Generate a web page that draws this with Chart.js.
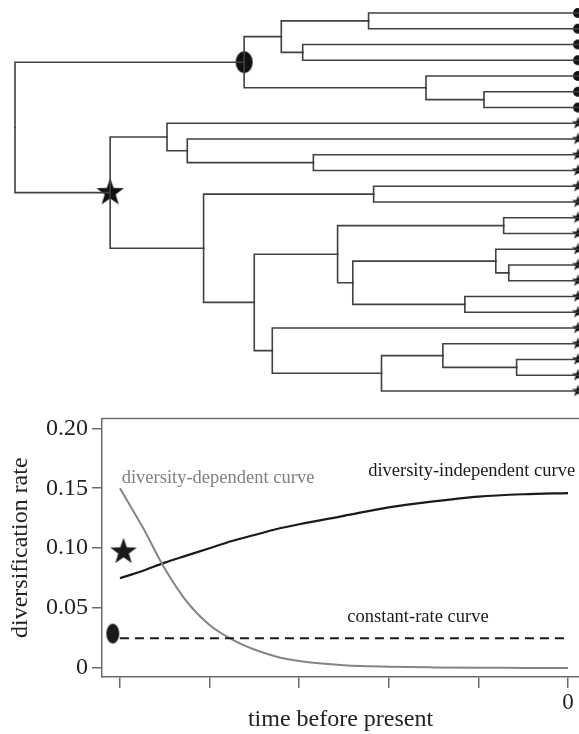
<!DOCTYPE html>
<html>
<head>
<meta charset="utf-8">
<script src="https://cdn.jsdelivr.net/npm/chart.js@4.4.0/dist/chart.umd.min.js"></script>
<style>
  html, body { margin: 0; padding: 0; background: #fff; }
  #wrap { position: relative; width: 579px; height: 734px; }
  canvas { position: absolute; left: 0; }
  #tree { top: 0; }
  #rates { top: 400px; }
</style>
</head>
<body>
<div id="wrap">
  <canvas id="tree" width="579" height="400"></canvas>
  <canvas id="rates" width="579" height="334"></canvas>
</div>
<script>
// ---- tree: internal nodes (depth from root, 0..100) ----
const nodeNames  = ['root', 'C', 'C1', 'C1a', 'C1b', 'C2', 'C2a', 'S', 'S1', 'S1a', 'S1b', 'S2', 'S2a', 'S2b', 'S2c', 'S2c1', 'S2d', 'S2e', 'S2e1', 'S2d2', 'S2f', 'S2g', 'S2h', 'S2i'];
const nodeParent = [null, 'root', 'C', 'C1', 'C1', 'C', 'C2', 'root', 'S', 'S1', 'S1a', 'S', 'S2', 'S2', 'S2b', 'S2c', 'S2c', 'S2d', 'S2e', 'S2d', 'S2b', 'S2f', 'S2g', 'S2h'];
const nodeDepth  = [0, 40.7, 47.3, 62.8, 51.1, 73.0, 83.3, 16.9, 27.0, 30.6, 53.0, 33.5, 63.7, 42.5, 57.3, 86.8, 60.0, 85.4, 87.7, 79.9, 45.7, 65.1, 76.0, 89.1];
// tips, top to bottom
const tipParent  = ['C1a', 'C1a', 'C1b', 'C1b', 'C2', 'C2a', 'C2a', 'S1', 'S1a', 'S1b', 'S1b', 'S2a', 'S2a', 'S2c1', 'S2c1', 'S2e', 'S2e1', 'S2e1', 'S2d2', 'S2d2', 'S2f', 'S2h', 'S2i', 'S2i', 'S2g'];
const tipShape   = ['circle', 'circle', 'circle', 'circle', 'circle', 'circle', 'circle',
                    'star', 'star', 'star', 'star', 'star', 'star', 'star', 'star', 'star',
                    'star', 'star', 'star', 'star', 'star', 'star', 'star', 'star', 'star'];
const tipDepth   = 100;
const ovalNode   = 'C';
const starNode   = 'S';

// ---- rate curves ----
const times                = [-5, -4.75, -4.5, -4.25, -4, -3.75, -3.5, -3.25, -3, -2.5, -2, -1.5, -1, -0.5, 0];
const diversityDependent   = [0.150, 0.118, 0.083, 0.055, 0.036, 0.024, 0.0155, 0.0095, 0.006, 0.0025, 0.0012, 0.0006, 0.0003, 0.0002, 0.0001];
const diversityIndependent = [0.075, 0.081, 0.088, 0.094, 0.100, 0.106, 0.111, 0.116, 0.120, 0.127, 0.134, 0.139, 0.143, 0.145, 0.146];
const constantRate         = [0.025, 0.025, 0.025, 0.025, 0.025, 0.025, 0.025, 0.025, 0.025, 0.025, 0.025, 0.025, 0.025, 0.025, 0.025];
const xTickValues = [-5, -4, -3, -2, -1, 0];
const xTickLabels = ['', '', '', '', '', '0'];
const yTickValues = [0, 0.05, 0.1, 0.15, 0.2];
const yTickLabels = ['0', '0.05', '0.10', '0.15', '0.20'];
const starPoint = [{ x: -4.96, y: 0.097 }];
const ovalPoint = [{ x: -5.08, y: 0.0288 }];

const serif = '"Liberation Serif", "DejaVu Serif", serif';
const axisGrey = '#6b6b6b';

function starImage(r, color) {
  const size = Math.ceil(r * 2) + 2;
  const c = document.createElement('canvas');
  c.width = c.height = size;
  const g = c.getContext('2d');
  g.fillStyle = color;
  g.beginPath();
  for (let k = 0; k < 10; k++) {
    const rr = k % 2 ? r * 0.4 : r;
    const a = -Math.PI / 2 + k * Math.PI / 5;
    g.lineTo(size / 2 + rr * Math.cos(a), size / 2 + rr * Math.sin(a));
  }
  g.closePath();
  g.fill();
  return c;
}

function ovalImage(w, h, color) {
  const c = document.createElement('canvas');
  c.width = w + 2; c.height = h + 2;
  const g = c.getContext('2d');
  g.fillStyle = color;
  g.beginPath();
  g.ellipse(c.width / 2, c.height / 2, w / 2, h / 2, 0, 0, Math.PI * 2);
  g.fill();
  return c;
}

function circleImage(r, color) {
  const c = document.createElement('canvas');
  c.width = c.height = r * 2 + 2;
  const g = c.getContext('2d');
  g.fillStyle = color;
  g.beginPath();
  g.arc(r + 1, r + 1, r, 0, Math.PI * 2);
  g.fill();
  return c;
}

// work out node positions
const depthOf = {};
const children = {};
nodeNames.forEach((n, i) => { depthOf[n] = nodeDepth[i]; children[n] = []; });
nodeNames.forEach((n, i) => { if (nodeParent[i]) children[nodeParent[i]].push({ node: n }); });
tipParent.forEach((p, i) => children[p].push({ tip: i }));
const yOf = {};
function nodeY(n) {
  if (yOf[n] !== undefined) return yOf[n];
  const ys = children[n].map(c => c.tip !== undefined ? c.tip : nodeY(c.node));
  yOf[n] = ys.reduce((a, b) => a + b, 0) / ys.length;
  return yOf[n];
}

const branchStyle = {
  type: 'line',
  borderColor: '#404040',
  borderWidth: 1.6,
  pointRadius: 0,
  tension: 0,
  fill: false,
  borderJoinStyle: 'miter',
  borderCapStyle: 'square'
};

const treeSets = [];
nodeNames.forEach((n, i) => {
  const p = nodeParent[i];
  if (!p) return;
  treeSets.push(Object.assign({
    data: [{ x: depthOf[p], y: nodeY(p) }, { x: depthOf[p], y: nodeY(n) }, { x: depthOf[n], y: nodeY(n) }]
  }, branchStyle));
});
tipParent.forEach((p, i) => {
  treeSets.push(Object.assign({
    data: [{ x: depthOf[p], y: nodeY(p) }, { x: depthOf[p], y: i }, { x: tipDepth, y: i }]
  }, branchStyle));
});

const tipCircle = circleImage(5, '#111');
const tipStar = starImage(6.5, '#111');
treeSets.push({
  type: 'scatter',
  data: tipShape.map((s, i) => ({ x: tipDepth, y: i })),
  pointStyle: tipShape.map(s => s === 'circle' ? tipCircle : tipStar),
  pointRadius: 5
});
treeSets.push({
  type: 'scatter',
  data: [{ x: depthOf[ovalNode], y: nodeY(ovalNode) }],
  pointStyle: ovalImage(17, 22, '#111'),
  pointRadius: 5
});
treeSets.push({
  type: 'scatter',
  data: [{ x: depthOf[starNode], y: nodeY(starNode) }],
  pointStyle: starImage(14.5, '#111'),
  pointRadius: 5
});

new Chart(document.getElementById('tree'), {
  type: 'line',
  data: { datasets: treeSets },
  options: {
    responsive: false,
    animation: false,
    events: [],
    layout: { padding: 0, autoPadding: false },
    plugins: { legend: { display: false }, tooltip: { enabled: false } },
    scales: {
      x: { type: 'linear', min: -2.664, max: 100.18, display: false },
      y: { type: 'linear', min: -0.825, max: 24.57, reverse: true, display: false }
    }
  }
});

// ---- lower panel ----
const curveLabels = [
  { text: 'diversity-dependent curve', x: -4.98, y: 0.1588, color: '#808080', align: 'left' },
  { text: 'diversity-independent curve', x: 0.08, y: 0.1646, color: '#1a1a1a', align: 'right' },
  { text: 'constant-rate curve', x: -1.674, y: 0.0428, color: '#1a1a1a', align: 'center' }
];

const frameAndLabels = {
  id: 'frameAndLabels',
  afterDatasetsDraw(chart) {
    const { ctx, chartArea: a, scales: { x, y } } = chart;
    ctx.save();
    ctx.strokeStyle = axisGrey;
    ctx.lineWidth = 1.5;
    ctx.beginPath();
    ctx.moveTo(a.left, a.top);
    ctx.lineTo(a.right, a.top);
    ctx.stroke();
    ctx.font = '18.5px ' + serif;
    ctx.textBaseline = 'middle';
    curveLabels.forEach(l => {
      ctx.fillStyle = l.color;
      ctx.textAlign = l.align;
      ctx.fillText(l.text, x.getPixelForValue(l.x), y.getPixelForValue(l.y));
    });
    ctx.restore();
  }
};

const pts = vals => times.map((t, i) => ({ x: t, y: vals[i] }));

new Chart(document.getElementById('rates'), {
  type: 'line',
  data: {
    datasets: [
      {
        data: pts(constantRate),
        borderColor: '#1a1a1a',
        borderWidth: 2,
        borderDash: [9, 6],
        pointRadius: 0
      },
      {
        data: pts(diversityDependent),
        borderColor: '#858585',
        borderWidth: 2,
        cubicInterpolationMode: 'monotone',
        pointRadius: 0
      },
      {
        data: pts(diversityIndependent),
        borderColor: '#1a1a1a',
        borderWidth: 2.2,
        cubicInterpolationMode: 'monotone',
        pointRadius: 0
      },
      {
        type: 'scatter',
        data: starPoint,
        pointStyle: starImage(14, '#1a1a1a'),
        pointRadius: 5
      },
      {
        type: 'scatter',
        data: ovalPoint,
        pointStyle: ovalImage(13, 20, '#1a1a1a'),
        pointRadius: 5
      }
    ]
  },
  options: {
    responsive: false,
    animation: false,
    events: [],
    layout: { padding: { top: 15, left: 0, right: 0, bottom: 0 }, autoPadding: false },
    plugins: { legend: { display: false }, tooltip: { enabled: false } },
    scales: {
      x: {
        type: 'linear',
        min: -5.2,
        max: 0.1228,
        afterBuildTicks: s => { s.ticks = xTickValues.map(v => ({ value: v })); },
        afterFit: s => { s.height = 57; },
        ticks: {
          autoSkip: false,
          maxRotation: 0,
          padding: 1,
          color: '#222',
          font: { family: serif, size: 23 },
          callback: v => xTickLabels[xTickValues.indexOf(v)]
        },
        grid: { drawOnChartArea: false, tickLength: 11, color: axisGrey, lineWidth: 1.5 },
        border: { color: axisGrey, width: 1.5 },
        title: {
          display: true,
          text: 'time before present',
          color: '#222',
          font: { family: serif, size: 24 },
          padding: { top: 0, bottom: 0 }
        }
      },
      y: {
        type: 'linear',
        min: -0.0074,
        max: 0.20823,
        afterBuildTicks: s => { s.ticks = yTickValues.map(v => ({ value: v })); },
        afterFit: s => { s.width = 102; },
        ticks: {
          padding: 4,
          color: '#222',
          font: { family: serif, size: 24 },
          callback: v => yTickLabels[yTickValues.indexOf(v)]
        },
        grid: { drawOnChartArea: false, tickLength: 10, color: axisGrey, lineWidth: 1.5 },
        border: { color: axisGrey, width: 1.5 },
        title: {
          display: true,
          text: 'diversification rate',
          color: '#222',
          font: { family: serif, size: 24 },
          padding: { top: 6, bottom: 0 }
        }
      }
    }
  },
  plugins: [frameAndLabels]
});
</script>
</body>
</html>
